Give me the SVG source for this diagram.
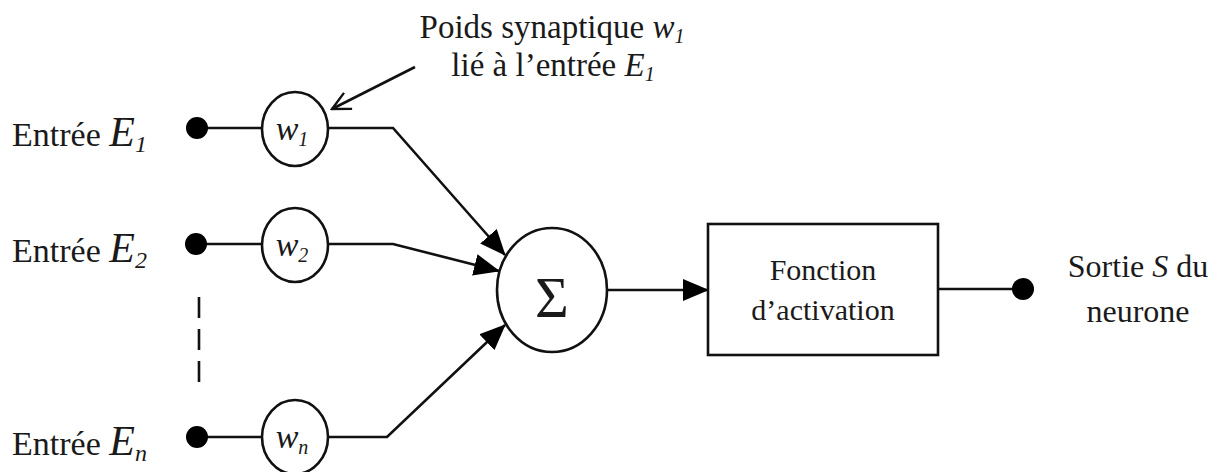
<svg xmlns="http://www.w3.org/2000/svg" width="1225" height="472" viewBox="0 0 1225 472">
  <style>
    .ln { fill: none; stroke: #111; stroke-width: 2.6; }
    .nd { fill: #fff; stroke: #111; stroke-width: 2.6; }
    .dot { fill: #000; }
    .tx { font-family: 'Liberation Serif', 'DejaVu Serif', serif; fill: #1a1a1a; }
    .it { font-style: italic; }
  </style>
  <defs>
    <marker id="head" markerUnits="userSpaceOnUse" markerWidth="26" markerHeight="22" refX="25" refY="11" orient="auto">
      <path d="M0,0 L26,11 L0,22 Z" fill="#000"/>
    </marker>
    <marker id="open" markerUnits="userSpaceOnUse" markerWidth="22" markerHeight="22" refX="20" refY="11" orient="auto">
      <path d="M2,2 L20,11 L2,20" fill="none" stroke="#111" stroke-width="2.4"/>
    </marker>
  </defs>

  <!-- connectors -->
  <g id="connectors">
    <line class="ln" x1="197" y1="128" x2="262" y2="128"/>
    <line class="ln" x1="196" y1="244" x2="262" y2="244"/>
    <line class="ln" x1="197" y1="437" x2="262" y2="437"/>
    <polyline class="ln" points="328,128 393,128 505,255" marker-end="url(#head)"/>
    <polyline class="ln" points="328,244 393,244 499,271" marker-end="url(#head)"/>
    <polyline class="ln" points="328,437 387,437 505,325" marker-end="url(#head)"/>
    <line class="ln" x1="607" y1="290" x2="708" y2="290" marker-end="url(#head)"/>
    <line class="ln" x1="938" y1="289" x2="1023" y2="289"/>
    <line class="ln" x1="199" y1="297" x2="199" y2="385" stroke-dasharray="21 11"/>
    <line class="ln" x1="415" y1="67" x2="332" y2="109" marker-end="url(#open)"/>
  </g>

  <!-- inputs -->
  <g id="input-1">
    <circle class="dot" cx="197" cy="128" r="11"/>
    <text class="tx" x="12" y="146" font-size="34">Entrée <tspan class="it" font-size="42">E</tspan><tspan class="it" font-size="24" dy="6">1</tspan></text>
  </g>
  <g id="input-2">
    <circle class="dot" cx="196" cy="244" r="11"/>
    <text class="tx" x="12" y="262" font-size="34">Entrée <tspan class="it" font-size="42">E</tspan><tspan class="it" font-size="24" dy="6">2</tspan></text>
  </g>
  <g id="input-n">
    <circle class="dot" cx="197" cy="437" r="11"/>
    <text class="tx" x="12" y="455" font-size="34">Entrée <tspan class="it" font-size="42">E</tspan><tspan class="it" font-size="24" dy="6">n</tspan></text>
  </g>

  <!-- weights -->
  <g id="weight-1">
    <ellipse class="nd" cx="295" cy="129" rx="33" ry="37"/>
    <text class="tx it" x="292" y="140" font-size="34" text-anchor="middle">w<tspan font-size="20" dy="6">1</tspan></text>
  </g>
  <g id="weight-2">
    <ellipse class="nd" cx="295" cy="245" rx="33" ry="37"/>
    <text class="tx it" x="292" y="256" font-size="34" text-anchor="middle">w<tspan font-size="20" dy="6">2</tspan></text>
  </g>
  <g id="weight-n">
    <ellipse class="nd" cx="295" cy="437" rx="33" ry="37"/>
    <text class="tx it" x="292" y="448" font-size="34" text-anchor="middle">w<tspan font-size="20" dy="6">n</tspan></text>
  </g>

  <!-- weight annotation -->
  <g id="annotation">
    <text class="tx" x="552" y="38" font-size="33" text-anchor="middle">Poids synaptique <tspan class="it">w</tspan><tspan class="it" font-size="20" dy="5">1</tspan></text>
    <text class="tx" x="553" y="76" font-size="33" text-anchor="middle">lié à l’entrée <tspan class="it">E</tspan><tspan class="it" font-size="20" dy="5">1</tspan></text>
  </g>

  <!-- summation -->
  <g id="sum">
    <ellipse class="nd" cx="552" cy="290" rx="55" ry="62"/>
    <text class="tx" x="552" y="317" font-size="58" text-anchor="middle">Σ</text>
  </g>

  <!-- activation function -->
  <g id="activation">
    <rect class="nd" x="708" y="224" width="230" height="131"/>
    <text class="tx" x="823" y="280" font-size="30" text-anchor="middle">Fonction</text>
    <text class="tx" x="823" y="320" font-size="30" text-anchor="middle">d’activation</text>
  </g>

  <!-- output -->
  <g id="output">
    <circle class="dot" cx="1023" cy="289" r="11"/>
    <text class="tx" x="1138" y="277" font-size="32" text-anchor="middle">Sortie <tspan class="it">S</tspan> du</text>
    <text class="tx" x="1138" y="322" font-size="32" text-anchor="middle">neurone</text>
  </g>
</svg>
